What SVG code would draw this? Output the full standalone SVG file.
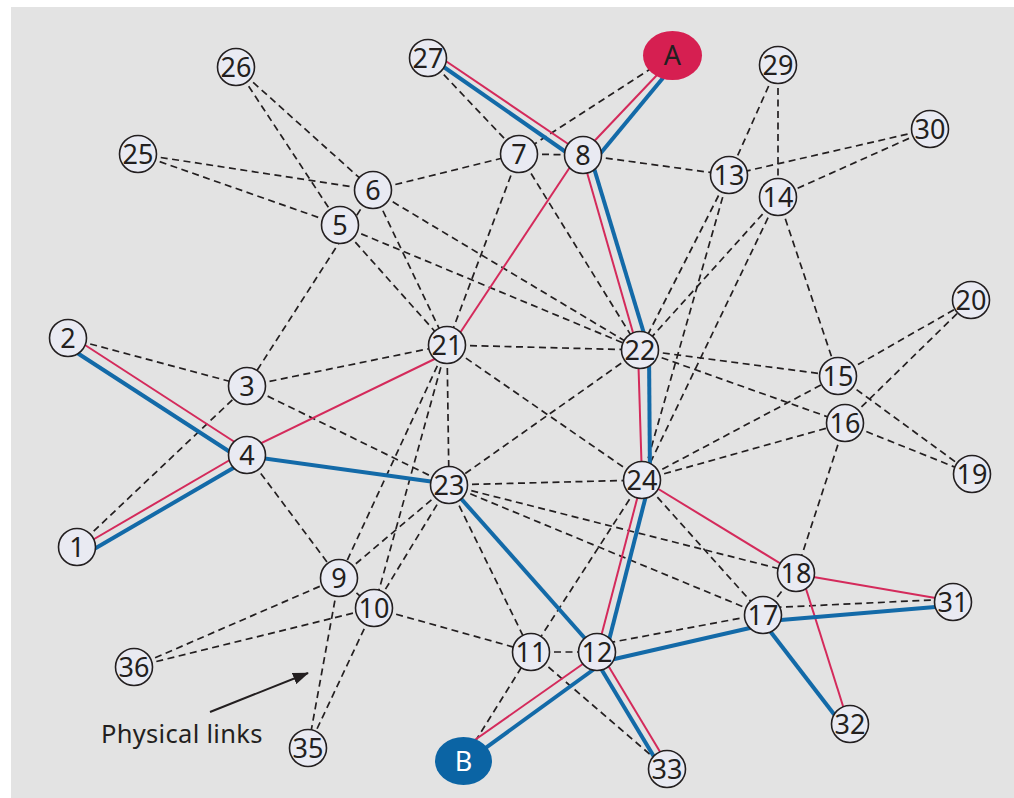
<svg xmlns="http://www.w3.org/2000/svg" width="1014" height="798" viewBox="0 0 1014 798">
<defs>
<style>
.bg{fill:#e3e3e3}
.d{stroke:#231f20;stroke-width:1.7;stroke-dasharray:7 4.5;fill:none}
.r{stroke:#d42a5b;stroke-width:2;fill:none}
.b{stroke:#136aa8;stroke-width:4;fill:none}
.n circle{fill:#e9eaf2;stroke:#231f20;stroke-width:1.6}
.n text{font-family:"Noto Sans","Open Sans","DejaVu Sans",sans-serif;font-size:27px;fill:#231f20;text-anchor:middle}
.lbl{font-family:"Noto Sans","Open Sans","DejaVu Sans",sans-serif;font-size:25.5px;fill:#231f20;letter-spacing:0.3px}
</style>
<marker id="ah" markerWidth="16" markerHeight="12" refX="15" refY="6" orient="auto" markerUnits="userSpaceOnUse">
<path d="M0,0 L16,6 L0,12 Z" fill="#231f20"/>
</marker>
</defs>
<rect class="bg" x="11" y="7" width="1003" height="791"/>
<g id="connectors">
<g id="physical">
<line class="d" x1="236" y1="67" x2="373" y2="190"/>
<line class="d" x1="236" y1="67" x2="340" y2="225"/>
<line class="d" x1="138" y1="154" x2="373" y2="190"/>
<line class="d" x1="138" y1="154" x2="340" y2="225"/>
<line class="d" x1="373" y1="190" x2="247" y2="386"/>
<line class="d" x1="340" y1="225" x2="447" y2="345"/>
<line class="d" x1="340" y1="225" x2="640" y2="350"/>
<line class="d" x1="373" y1="190" x2="447" y2="345"/>
<line class="d" x1="373" y1="190" x2="640" y2="350"/>
<line class="d" x1="373" y1="190" x2="519" y2="154"/>
<line class="d" x1="519" y1="154" x2="583" y2="155"/>
<line class="d" x1="428" y1="58" x2="519" y2="154"/>
<line class="d" x1="672" y1="55" x2="519" y2="154"/>
<line class="d" x1="519" y1="154" x2="447" y2="345"/>
<line class="d" x1="519" y1="154" x2="640" y2="350"/>
<line class="d" x1="583" y1="155" x2="729" y2="175"/>
<line class="d" x1="778" y1="65" x2="729" y2="175"/>
<line class="d" x1="778" y1="65" x2="778" y2="197"/>
<line class="d" x1="930" y1="129" x2="729" y2="175"/>
<line class="d" x1="930" y1="129" x2="778" y2="197"/>
<line class="d" x1="729" y1="175" x2="640" y2="350"/>
<line class="d" x1="729" y1="175" x2="642" y2="480"/>
<line class="d" x1="778" y1="197" x2="640" y2="350"/>
<line class="d" x1="778" y1="197" x2="642" y2="480"/>
<line class="d" x1="778" y1="197" x2="838" y2="376"/>
<line class="d" x1="68" y1="338" x2="247" y2="386"/>
<line class="d" x1="77" y1="547" x2="247" y2="386"/>
<line class="d" x1="247" y1="386" x2="447" y2="345"/>
<line class="d" x1="247" y1="386" x2="449" y2="485"/>
<line class="d" x1="247" y1="455" x2="339" y2="578"/>
<line class="d" x1="339" y1="578" x2="374" y2="608"/>
<line class="d" x1="447" y1="345" x2="640" y2="350"/>
<line class="d" x1="447" y1="345" x2="449" y2="485"/>
<line class="d" x1="447" y1="345" x2="642" y2="480"/>
<line class="d" x1="447" y1="345" x2="339" y2="578"/>
<line class="d" x1="447" y1="345" x2="374" y2="608"/>
<line class="d" x1="640" y1="350" x2="449" y2="485"/>
<line class="d" x1="640" y1="350" x2="838" y2="376"/>
<line class="d" x1="640" y1="350" x2="845" y2="423"/>
<line class="d" x1="449" y1="485" x2="642" y2="480"/>
<line class="d" x1="449" y1="485" x2="339" y2="578"/>
<line class="d" x1="449" y1="485" x2="374" y2="608"/>
<line class="d" x1="374" y1="608" x2="308" y2="748"/>
<line class="d" x1="449" y1="485" x2="531" y2="652"/>
<line class="d" x1="449" y1="485" x2="796" y2="573"/>
<line class="d" x1="449" y1="485" x2="763" y2="615"/>
<line class="d" x1="642" y1="480" x2="838" y2="376"/>
<line class="d" x1="642" y1="480" x2="845" y2="423"/>
<line class="d" x1="642" y1="480" x2="763" y2="615"/>
<line class="d" x1="642" y1="480" x2="531" y2="652"/>
<line class="d" x1="838" y1="376" x2="971" y2="300"/>
<line class="d" x1="838" y1="376" x2="972" y2="474"/>
<line class="d" x1="845" y1="423" x2="971" y2="300"/>
<line class="d" x1="845" y1="423" x2="972" y2="474"/>
<line class="d" x1="845" y1="423" x2="796" y2="573"/>
<line class="d" x1="763" y1="615" x2="796" y2="573"/>
<line class="d" x1="763" y1="608" x2="953" y2="599"/>
<line class="d" x1="597" y1="645" x2="763" y2="614"/>
<line class="d" x1="531" y1="652" x2="597" y2="652"/>
<line class="d" x1="374" y1="608" x2="531" y2="652"/>
<line class="d" x1="134" y1="667" x2="339" y2="578"/>
<line class="d" x1="134" y1="667" x2="374" y2="608"/>
<line class="d" x1="339" y1="578" x2="308" y2="748"/>
<line class="d" x1="463" y1="761" x2="531" y2="652"/>
<line class="d" x1="531" y1="652" x2="667" y2="769"/>
</g>
<g id="path-red">
<line class="r" x1="428" y1="49" x2="583" y2="154"/>
<line class="r" x1="676" y1="55" x2="583" y2="153"/>
<line class="r" x1="582" y1="155" x2="638" y2="350"/>
<line class="r" x1="638" y1="350" x2="642" y2="480"/>
<line class="r" x1="642" y1="480" x2="597" y2="652"/>
<line class="r" x1="578" y1="155" x2="452" y2="345"/>
<line class="r" x1="247" y1="450" x2="447" y2="353"/>
<line class="r" x1="68" y1="334" x2="247" y2="450"/>
<line class="r" x1="77" y1="549" x2="247" y2="450"/>
<line class="r" x1="642" y1="479" x2="796" y2="573"/>
<line class="r" x1="796" y1="574" x2="953" y2="601"/>
<line class="r" x1="801" y1="573" x2="849" y2="725"/>
<line class="r" x1="462" y1="749" x2="597" y2="654"/>
<line class="r" x1="600" y1="652" x2="671" y2="770"/>
</g>
<g id="path-blue">
<line class="b" x1="428" y1="56" x2="583" y2="164"/>
<line class="b" x1="682" y1="55" x2="595" y2="160"/>
<line class="b" x1="590" y1="155" x2="649" y2="350"/>
<line class="b" x1="649" y1="350" x2="650" y2="480"/>
<line class="b" x1="650" y1="480" x2="606" y2="652"/>
<line class="b" x1="68" y1="347" x2="247" y2="463"/>
<line class="b" x1="77" y1="559" x2="247" y2="460"/>
<line class="b" x1="247" y1="456" x2="449" y2="484"/>
<line class="b" x1="449" y1="485" x2="597" y2="652"/>
<line class="b" x1="462" y1="765" x2="597" y2="667"/>
<line class="b" x1="591" y1="652" x2="662" y2="770"/>
<line class="b" x1="597" y1="663" x2="763" y2="625"/>
<line class="b" x1="763" y1="621.5" x2="953" y2="605.4"/>
<line class="b" x1="760" y1="618" x2="850" y2="735"/>
</g>
</g>
<g id="node-1" class="n"><circle cx="77" cy="547" r="18.5"/><text x="77" y="556.5">1</text></g>
<g id="node-2" class="n"><circle cx="68" cy="338" r="18.5"/><text x="68" y="347.5">2</text></g>
<g id="node-3" class="n"><circle cx="247" cy="386" r="18.5"/><text x="247" y="395.5">3</text></g>
<g id="node-4" class="n"><circle cx="247" cy="455" r="18.5"/><text x="247" y="464.5">4</text></g>
<g id="node-5" class="n"><circle cx="340" cy="225" r="18.5"/><text x="340" y="234.5">5</text></g>
<g id="node-6" class="n"><circle cx="373" cy="190" r="18.5"/><text x="373" y="199.5">6</text></g>
<g id="node-7" class="n"><circle cx="519" cy="154" r="18.5"/><text x="519" y="163.5">7</text></g>
<g id="node-8" class="n"><circle cx="583" cy="155" r="18.5"/><text x="583" y="164.5">8</text></g>
<g id="node-9" class="n"><circle cx="339" cy="578" r="18.5"/><text x="339" y="587.5">9</text></g>
<g id="node-10" class="n"><circle cx="374" cy="608" r="18.5"/><text x="374" y="617.5">10</text></g>
<g id="node-11" class="n"><circle cx="531" cy="652" r="18.5"/><text x="531" y="661.5">11</text></g>
<g id="node-12" class="n"><circle cx="597" cy="652" r="18.5"/><text x="597" y="661.5">12</text></g>
<g id="node-13" class="n"><circle cx="729" cy="175" r="18.5"/><text x="729" y="184.5">13</text></g>
<g id="node-14" class="n"><circle cx="778" cy="197" r="18.5"/><text x="778" y="206.5">14</text></g>
<g id="node-15" class="n"><circle cx="838" cy="376" r="18.5"/><text x="838" y="385.5">15</text></g>
<g id="node-16" class="n"><circle cx="845" cy="423" r="18.5"/><text x="845" y="432.5">16</text></g>
<g id="node-17" class="n"><circle cx="763" cy="615" r="18.5"/><text x="763" y="624.5">17</text></g>
<g id="node-18" class="n"><circle cx="796" cy="573" r="18.5"/><text x="796" y="582.5">18</text></g>
<g id="node-19" class="n"><circle cx="972" cy="474" r="18.5"/><text x="972" y="483.5">19</text></g>
<g id="node-20" class="n"><circle cx="971" cy="300" r="18.5"/><text x="971" y="309.5">20</text></g>
<g id="node-21" class="n"><circle cx="447" cy="345" r="18.5"/><text x="447" y="354.5">21</text></g>
<g id="node-22" class="n"><circle cx="640" cy="350" r="18.5"/><text x="640" y="359.5">22</text></g>
<g id="node-23" class="n"><circle cx="449" cy="485" r="18.5"/><text x="449" y="494.5">23</text></g>
<g id="node-24" class="n"><circle cx="642" cy="480" r="18.5"/><text x="642" y="489.5">24</text></g>
<g id="node-25" class="n"><circle cx="138" cy="154" r="18.5"/><text x="138" y="163.5">25</text></g>
<g id="node-26" class="n"><circle cx="236" cy="67" r="18.5"/><text x="236" y="76.5">26</text></g>
<g id="node-27" class="n"><circle cx="428" cy="58" r="18.5"/><text x="428" y="67.5">27</text></g>
<g id="node-29" class="n"><circle cx="778" cy="65" r="18.5"/><text x="778" y="74.5">29</text></g>
<g id="node-30" class="n"><circle cx="930" cy="129" r="18.5"/><text x="930" y="138.5">30</text></g>
<g id="node-31" class="n"><circle cx="953" cy="602" r="18.5"/><text x="953" y="611.5">31</text></g>
<g id="node-32" class="n"><circle cx="850" cy="724" r="18.5"/><text x="850" y="733.5">32</text></g>
<g id="node-33" class="n"><circle cx="667" cy="769" r="18.5"/><text x="667" y="778.5">33</text></g>
<g id="node-35" class="n"><circle cx="308" cy="748" r="18.5"/><text x="308" y="757.5">35</text></g>
<g id="node-36" class="n"><circle cx="134" cy="667" r="18.5"/><text x="134" y="676.5">36</text></g>
<g id="node-A" class="n"><ellipse cx="672.5" cy="55.5" rx="29.5" ry="24.5" fill="#d61f51"/><text x="672.5" y="65">A</text></g>
<g id="node-B" class="n"><ellipse cx="463.5" cy="761" rx="28.5" ry="24" fill="#0b64a4"/><text x="463.5" y="770.5" style="fill:#ffffff">B</text></g>
<g id="label">
<line x1="210" y1="712" x2="308" y2="673" stroke="#231f20" stroke-width="2" marker-end="url(#ah)"/>
<text class="lbl" x="101" y="743">Physical links</text>
</g>
</svg>
